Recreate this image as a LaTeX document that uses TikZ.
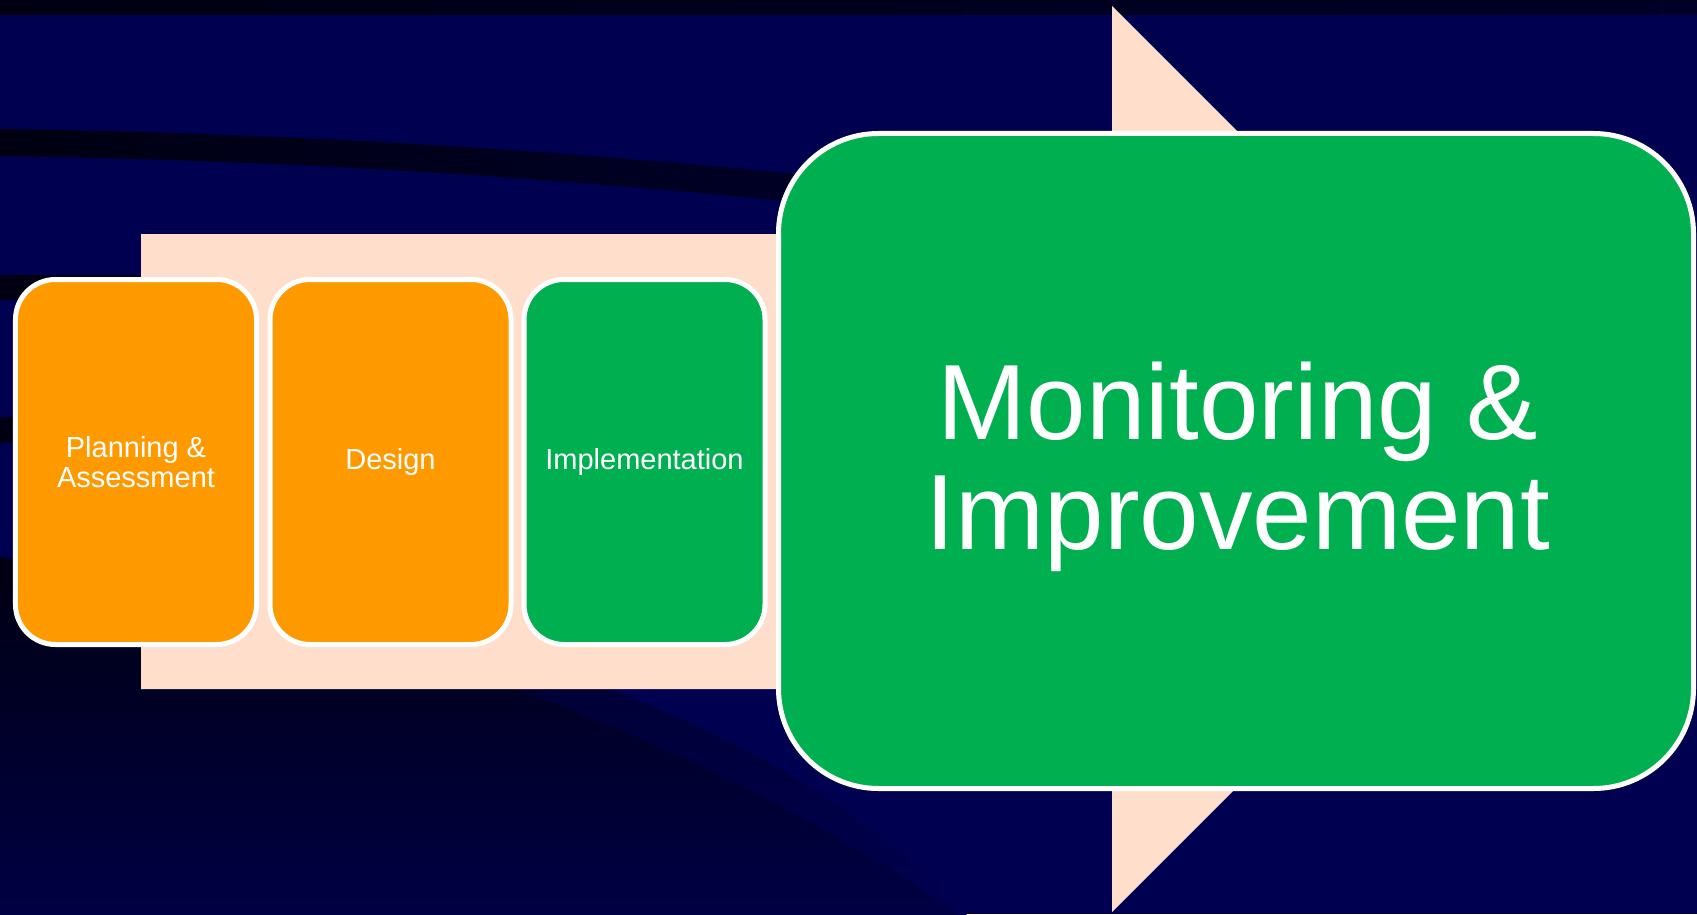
\documentclass[tikz,border=0pt]{standalone}
\usepackage{fontspec}
\setmainfont{Liberation Sans}
\definecolor{navy}{RGB}{0,0,80}
\definecolor{navydark}{RGB}{0,0,40}
\definecolor{deep}{RGB}{0,0,18}
\definecolor{peach}{RGB}{255,223,204}
\definecolor{stepor}{RGB}{255,153,0}
\definecolor{stepgr}{RGB}{0,176,80}
\tikzset{
  stagebox/.style={rounded corners=40bp, draw=white, line width=5bp,
    minimum width=241bp, minimum height=365bp, inner sep=0pt,
    text=white, align=center, font=\fontsize{29bp}{30bp}\selectfont},
  bigbox/.style={rounded corners=100bp, draw=white, line width=5bp, fill=stepgr,
    minimum width=915bp, minimum height=655bp, inner sep=0pt},
  bigtext/.style={inner sep=0pt, text=white, align=center,
    font=\fontsize{107bp}{110bp}\selectfont}
}
\begin{document}
\begin{tikzpicture}[x=1bp,y=-1bp]
\useasboundingbox (0,0) rectangle (1697,914);
% background
\fill[navy] (0,0) rectangle (1697,914);
\shade[left color=deep, right color=navydark] (0,0) rectangle (1697,14);
\shade[left color=deep, right color=navydark] (-2,129) .. controls (300,133) and (600,152) .. (900,185)
  -- (900,213) .. controls (600,180) and (300,160) .. (-2,156) -- cycle;
\fill[deep] (0,275) rectangle (140,300);
\fill[deep] (0,417) rectangle (140,443);
\shade[top color=navydark, bottom color=navy] (-2,556) .. controls (380,600) and (760,690) .. (968,916)
  -- (-2,916) -- cycle;
\shade[top color=deep, bottom color=navy!85!black] (-2,558) .. controls (300,610) and (650,700) .. (960,916)
  -- (-2,916) -- cycle;
% block arrow
\fill[peach] (141,234) -- (1112,234) -- (1112,6) -- (1565,459) -- (1112,912)
  -- (1112,689) -- (141,689) -- cycle;
% stages
\node[stagebox, fill=stepor] (plan) at (136,462) {Planning \&\\Assessment};
\node[stagebox, fill=stepor] (design) at (390.5,462) {Design};
\node[stagebox, fill=stepgr] (impl) at (644.5,462) {Implementation};
\node[bigbox] (monitor) at (1236,461) {};
\node[bigtext] (monitorlabel) at ([yshift=-6bp, xshift=2bp]monitor.center) {Monitoring \&\\Improvement};
\end{tikzpicture}
\end{document}
